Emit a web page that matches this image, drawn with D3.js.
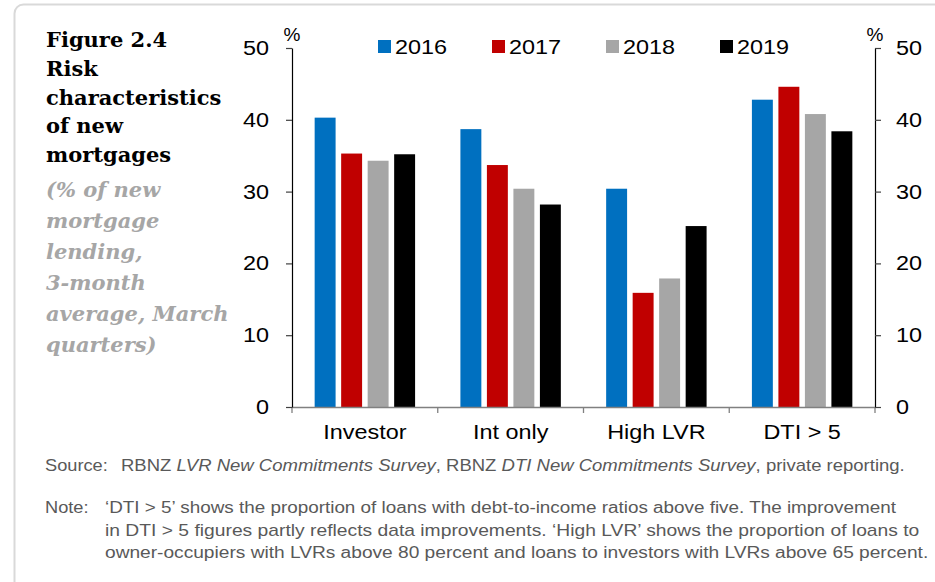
<!DOCTYPE html>
<html>
<head>
<meta charset="utf-8">
<script src="https://cdn.jsdelivr.net/npm/d3@7"></script>
<style>
  body { margin: 0; background: #fff; }
  svg { display: block; }
</style>
</head>
<body>
<script>
// chart data
const categories = ["Investor", "Int only", "High LVR", "DTI > 5"];
const years = ["2016", "2017", "2018", "2019"];
const values2016 = [40.3, 38.7, 30.4, 42.8];
const values2017 = [35.3, 33.7, 15.9, 44.6];
const values2018 = [34.3, 30.4, 17.9, 40.8];
const values2019 = [35.2, 28.2, 25.2, 38.4];
const yearColors = ["#0070C0", "#C00000", "#A6A6A6", "#000000"];
const yTicks = [0, 10, 20, 30, 40, 50];

const titleLines = ["Figure 2.4", "Risk", "characteristics", "of new", "mortgages"];
const subtitleLines = ["(% of new", "mortgage", "lending,", "3-month", "average, March", "quarters)"];
const noteLines = [
  "\u2018DTI > 5\u2019 shows the proportion of loans with debt-to-income ratios above five. The improvement",
  "in DTI > 5 figures partly reflects data improvements. \u2018High LVR\u2019 shows the proportion of loans to",
  "owner-occupiers with LVRs above 80 percent and loans to investors with LVRs above 65 percent."
];

const seriesValues = [values2016, values2017, values2018, values2019];
const table = categories.map((c, i) => ({
  category: c,
  bars: years.map((y, j) => ({ year: y, value: seriesValues[j][i] }))
}));

const W = 935, H = 582;
const margin = { top: 48, right: 60, bottom: 175, left: 292 };
const sans = "'Liberation Sans', Arial, sans-serif";
const serif = "'DejaVu Serif', serif";
const K = 1.17; // horizontal widening of the sans labels

const svg = d3.select("body").append("svg")
  .attr("width", W)
  .attr("height", H);

// frame
svg.append("rect")
  .attr("x", 14.5).attr("y", 4.5)
  .attr("width", 1000).attr("height", 590)
  .attr("rx", 9)
  .attr("fill", "none")
  .attr("stroke", "#d9d9d9")
  .attr("stroke-width", 2);

function stretch(sel, k) {
  sel.each(function() {
    const w = this.getComputedTextLength();
    d3.select(this).attr("textLength", w * k).attr("lengthAdjust", "spacingAndGlyphs");
  });
}

const x0 = d3.scaleBand()
  .domain(categories)
  .range([margin.left, W - margin.right])
  .padding(0);

const x1 = d3.scaleBand()
  .domain(years)
  .range([0, x0.bandwidth()])
  .paddingInner(0.21)
  .paddingOuter(0.855);

const y = d3.scaleLinear()
  .domain([0, 50])
  .range([H - margin.bottom, margin.top]);

const color = d3.scaleOrdinal().domain(years).range(yearColors);

// bars
svg.append("g")
  .selectAll("g")
  .data(table)
  .join("g")
    .attr("transform", d => `translate(${x0(d.category)},0)`)
  .selectAll("rect")
  .data(d => d.bars)
  .join("rect")
    .attr("x", d => x1(d.year))
    .attr("y", d => y(d.value))
    .attr("width", x1.bandwidth())
    .attr("height", d => y(0) - y(d.value))
    .attr("fill", d => color(d.year));

// x axis line + category boundary ticks
const xAxis = svg.append("g")
  .attr("transform", `translate(0,${y(0)})`)
  .call(d3.axisBottom(x0).tickSize(0).tickPadding(18));
xAxis.select(".domain").attr("stroke", "#808080").attr("stroke-width", 1.3);
xAxis.selectAll("text")
  .attr("font-family", sans)
  .attr("font-size", 20)
  .attr("fill", "#000");
stretch(xAxis.selectAll("text"), K);

const bounds = categories.map(c => x0(c)).concat([x0.range()[1]]);
xAxis.selectAll(".bound")
  .data(bounds)
  .join("line")
    .attr("class", "bound")
    .attr("x1", d => d).attr("x2", d => d)
    .attr("y1", 0).attr("y2", 6)
    .attr("stroke", "#808080")
    .attr("stroke-width", 1.3);

// y axes
function styleY(g) {
  g.select(".domain").attr("stroke", "#000").attr("stroke-width", 1.2);
  g.selectAll(".tick line").attr("stroke", "#404040").attr("stroke-width", 1.2);
  g.selectAll("text")
    .attr("font-family", sans)
    .attr("font-size", 20)
    .attr("fill", "#000");
  stretch(g.selectAll("text"), K);
}

svg.append("g")
  .attr("transform", `translate(${margin.left},0)`)
  .call(d3.axisLeft(y).tickValues(yTicks).tickSize(6).tickSizeOuter(0).tickPadding(17))
  .call(styleY);

svg.append("g")
  .attr("transform", `translate(${W - margin.right},0)`)
  .call(d3.axisRight(y).tickValues(yTicks).tickSize(6).tickSizeOuter(0).tickPadding(15))
  .call(styleY);

// % unit labels
svg.selectAll(".unit")
  .data([margin.left, W - margin.right])
  .join("text")
    .attr("class", "unit")
    .attr("x", d => d)
    .attr("y", 41)
    .attr("text-anchor", "middle")
    .attr("font-family", sans)
    .attr("font-size", 19)
    .text("%");

// legend
const lx = d3.scalePoint().domain(years).range([378, 720]);
const legend = svg.append("g").selectAll("g")
  .data(years)
  .join("g")
    .attr("transform", d => `translate(${lx(d)},40)`);
legend.append("rect")
  .attr("width", 13).attr("height", 13)
  .attr("fill", d => color(d));
legend.append("text")
  .attr("x", 17).attr("y", 14)
  .attr("font-family", sans)
  .attr("font-size", 20)
  .text(d => d);
stretch(legend.selectAll("text"), K);

// title block
svg.append("g").selectAll("text")
  .data(titleLines)
  .join("text")
    .attr("x", 46)
    .attr("y", (d, i) => 47 + i * 28.8)
    .attr("font-family", serif)
    .attr("font-weight", "bold")
    .attr("font-size", 21)
    .attr("fill", "#000")
    .text(d => d);

svg.append("g").selectAll("text")
  .data(subtitleLines)
  .join("text")
    .attr("x", 46)
    .attr("y", (d, i) => 197 + i * 31)
    .attr("font-family", serif)
    .attr("font-weight", "bold")
    .attr("font-style", "italic")
    .attr("font-size", 21)
    .attr("fill", "#a6a6a6")
    .text(d => d);

// footer
function fitLine(x, xEnd, baseline, build) {
  const g = svg.append("g");
  const t = g.append("text")
    .attr("x", 0).attr("y", 0)
    .attr("font-family", sans)
    .attr("font-size", 16)
    .attr("fill", "#595959");
  build(t);
  const w = t.node().getBBox().width;
  const k = xEnd ? (xEnd - x) / w : 1.14;
  g.attr("transform", `translate(${x},${baseline}) scale(${k},1)`);
}

fitLine(45, null, 471, t => t.text("Source:"));
fitLine(121, 905, 471, t => {
  t.append("tspan").text("RBNZ ");
  t.append("tspan").attr("font-style", "italic").text("LVR New Commitments Survey");
  t.append("tspan").text(", RBNZ ");
  t.append("tspan").attr("font-style", "italic").text("DTI New Commitments Survey");
  t.append("tspan").text(", private reporting.");
});
fitLine(45, null, 513, t => t.text("Note:"));
const noteEnds = [897, 920, 929];
noteLines.forEach((line, i) => {
  fitLine(105, noteEnds[i], 513 + i * 22.5, t => t.text(line));
});
</script>
</body>
</html>
